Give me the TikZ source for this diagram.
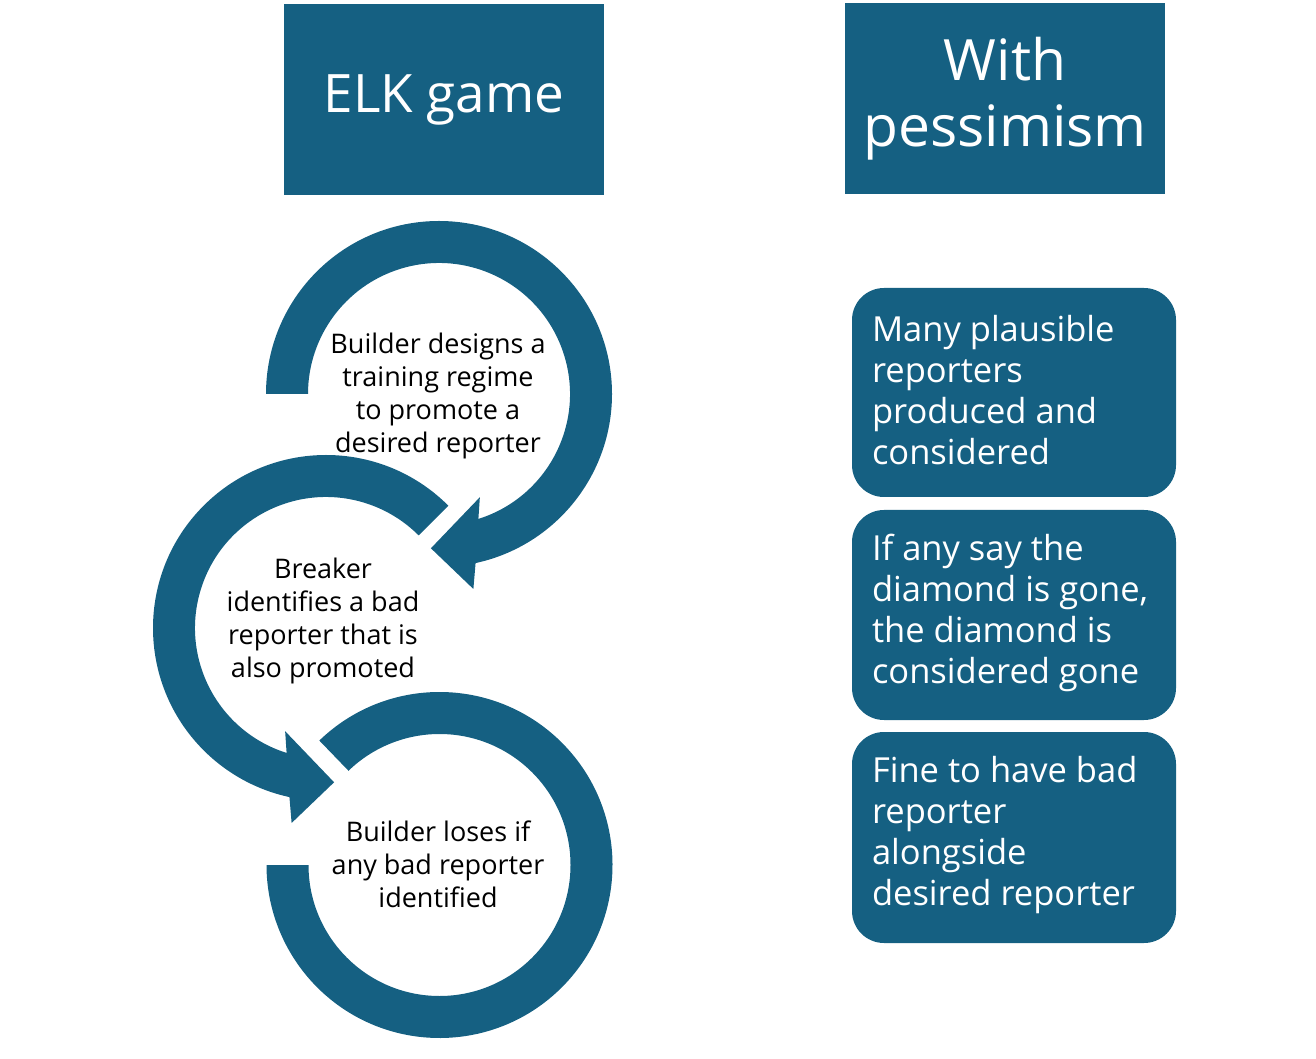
\documentclass[tikz,border=0pt]{standalone}
\usepackage{fontspec}
\setmainfont{Open Sans}
\definecolor{elk}{HTML}{156082}
\begin{document}
\begin{tikzpicture}[x=1pt,y=1pt,
  band/.style={fill=elk},
  headbox/.style={fill=elk, minimum width=320pt, minimum height=191pt, inner sep=0pt, text=white, align=center},
  sidebox/.style={fill=elk, rounded corners=32pt, minimum width=324pt, inner sep=0pt},
  sidetext/.style={anchor=west, align=left, inner sep=0pt, text=white, font=\fontsize{34.5}{41}\selectfont},
  ctext/.style={align=center, inner sep=0pt, text=black, font=\fontsize{27}{33}\selectfont}]
\useasboundingbox (0,0) rectangle (1316,1058);

% headings
\node[headbox, font=\fontsize{53}{64}\selectfont] (h1) at (444,958) {ELK game};
\node[headbox, font=\fontsize{57}{66}\selectfont] (h2) at (1005,959.5) {With\\pessimism};

% circular arrows
\begin{scope}[shift={(439,664)}]
  \fill[band] (180:173pt) arc[start angle=180,end angle=-77.8,radius=173pt]
    -- (-80:198pt) -- (-93:154.5pt) -- (-68.4:111pt) -- (-72.5:131pt)
    arc[start angle=-72.5,end angle=180,radius=131pt] -- cycle;
\end{scope}
\begin{scope}[shift={(326,430)}]
  \fill[band] (45:173pt) arc[start angle=45,end angle=257.8,radius=173pt]
    -- (260:198pt) -- (273:154.5pt) -- (248.4:111pt) -- (252.5:131pt)
    arc[start angle=252.5,end angle=45,radius=131pt] -- cycle;
\end{scope}
\begin{scope}[shift={(439.5,193)}]
  \fill[band] (134:173pt) arc[start angle=134,end angle=-180,radius=173pt]
    -- (-180:131pt) arc[start angle=-180,end angle=134,radius=131pt] -- cycle;
\end{scope}

% circle texts
\node[ctext] (t1) at (438,662.5) {Builder designs a\\training regime\\to promote a\\desired reporter};
\node[ctext] (t2) at (323,437) {Breaker\\identifies a bad\\reporter that is\\also promoted};
\node[ctext] (t3) at (438,194) {Builder loses if\\any bad reporter\\identified};

% side boxes
\node[sidebox, minimum height=209pt] (s1) at (1014,665.5) {};
\node[sidebox, minimum height=210pt] (s2) at (1014,443) {};
\node[sidebox, minimum height=211pt] (s3) at (1014,220.5) {};
\node[sidetext] (s1t) at ([xshift=20pt,yshift=2pt]s1.west) {Many plausible\\reporters\\produced and\\considered};
\node[sidetext] (s2t) at ([xshift=20pt,yshift=2pt]s2.west) {If any say the\\diamond is gone,\\the diamond is\\considered gone};
\node[sidetext] (s3t) at ([xshift=20pt,yshift=2pt]s3.west) {Fine to have bad\\reporter\\alongside\\desired reporter};
\end{tikzpicture}
\end{document}
